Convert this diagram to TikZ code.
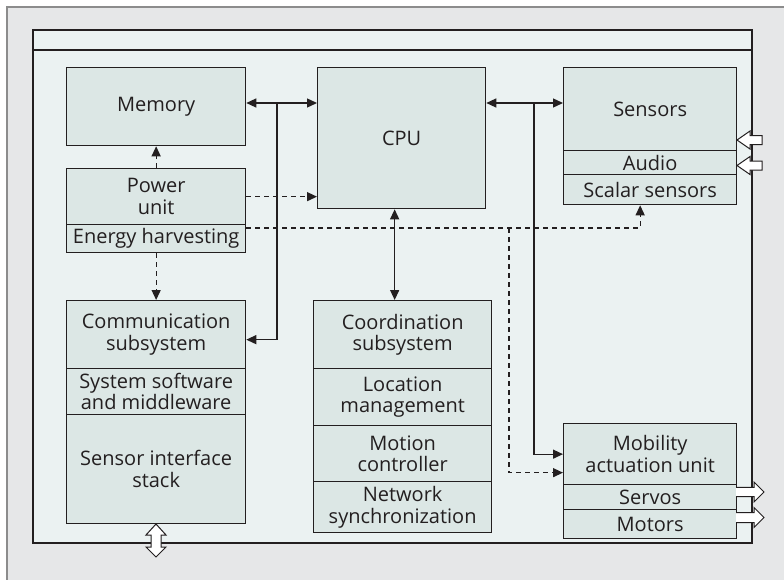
\documentclass[tikz,border=0pt]{standalone}
\usepackage{fontspec}
\setmainfont{Open Sans}
\usetikzlibrary{arrows.meta}
\definecolor{bggray}{HTML}{E6E7E8}
\definecolor{framegray}{HTML}{8C8C8C}
\definecolor{panel}{HTML}{EBF2F2}
\definecolor{boxfill}{HTML}{DCE7E5}
\definecolor{ink}{HTML}{231F20}
\begin{document}
\begin{tikzpicture}[x=1pt,y=-1pt,
  blk/.style={draw=ink, line width=1.3pt, fill=boxfill, anchor=north west, inner sep=0pt, align=center, font=\fontsize{20}{21.5}\selectfont, text=ink},
  conn/.style={draw=ink, line width=1.3pt},
  dconn/.style={conn, dash pattern=on 5pt off 4pt},
  tipone/.style={-{Triangle[length=10pt,width=9pt]}},
  tiptwo/.style={{Triangle[length=10pt,width=9pt]}-{Triangle[length=10pt,width=9pt]}},
  hollow/.style={draw=ink, line width=1pt, fill=white, line join=miter}
]
\useasboundingbox (0,0) rectangle (784,579);
\fill[white] (0,0) rectangle (784,579);
\draw[fill=bggray, draw=framegray, line width=2pt] (7,7) rectangle (800,600);
\draw[fill=panel, draw=ink, line width=1.3pt] (33,30) rectangle (752,543);
\draw[ink, line width=1.3pt] (33,50) -- (752,50);

% blocks
\node[blk, minimum width=179pt, minimum height=78pt] (mem) at (66,67) {Memory};
\node[blk, minimum width=168pt, minimum height=141pt] (cpu) at (317,67) {CPU};
\node[blk, minimum width=173pt, minimum height=83pt] (sens) at (563,67) {Sensors};
\node[blk, minimum width=173pt, minimum height=24pt] (audio) at (563,150) {Audio};
\node[blk, minimum width=173pt, minimum height=30pt] (scalar) at (563,174) {Scalar sensors};

\node[blk, minimum width=179pt, minimum height=56pt] (power) at (66,168) {Power\\unit};
\node[blk, minimum width=179pt, minimum height=28pt] (energy) at (66,224) {Energy harvesting};

\node[blk, minimum width=179pt, minimum height=68pt] (comm) at (66,300) {Communication\\subsystem};
\node[blk, minimum width=179pt, minimum height=46pt] (sysw) at (66,368) {System software\\and middleware};
\node[blk, minimum width=179pt, minimum height=109pt] (sis) at (66,414) {Sensor interface\\stack};

\node[blk, minimum width=178pt, minimum height=68pt] (coord) at (313,300) {Coordination\\subsystem};
\node[blk, minimum width=178pt, minimum height=57pt] (loc) at (313,368) {Location\\management};
\node[blk, minimum width=178pt, minimum height=56pt] (mot) at (313,425) {Motion\\controller};
\node[blk, minimum width=178pt, minimum height=51pt] (net) at (313,481) {Network\\synchronization};

\node[blk, minimum width=173pt, minimum height=61pt] (mob) at (563,423) {Mobility\\actuation unit};
\node[blk, minimum width=173pt, minimum height=25pt] (servo) at (563,484) {Servos};
\node[blk, minimum width=173pt, minimum height=29pt] (motor) at (563,509) {Motors};

% solid connectors
\coordinate (j1) at (277,103);
\coordinate (j2) at (534,103);
\draw[conn, tiptwo] (mem.east |- j1) -- (cpu.west |- j1);
\draw[conn, tipone] (j1) |- ([yshift=-5pt]comm.east);
\draw[conn, tiptwo] (cpu.east |- j2) -- (sens.west |- j2);
\draw[conn, tipone] (j2) |- (mob.west);
\draw[conn, tiptwo] ([xshift=-7pt]cpu.south) -- ([xshift=-7pt]cpu.south |- coord.north);

% dashed connectors
\draw[dconn, tipone] (power.north) -- (mem.south);
\draw[dconn, tipone] (power.east) -- (cpu.west |- power.east);
\draw[dconn, tipone] (energy.south) -- (comm.north);
\coordinate (e1) at ([yshift=-4pt]energy.north east);
\coordinate (j3) at (509,228);
\draw[dconn, tipone] (e1) -| ([xshift=-10pt]scalar.south);
\draw[dconn, tipone] (j3) |- ([yshift=-18.5pt]mob.west);

% hollow arrows
\draw[hollow] (737,140) -- (750,131) -- (750,135.5) -- (762,135.5) -- (762,144.5) -- (750,144.5) -- (750,149) -- cycle;
\draw[hollow] (737,165.5) -- (750,156.5) -- (750,161) -- (762,161) -- (762,170) -- (750,170) -- (750,174.5) -- cycle;
\draw[hollow] (736,487.3) -- (754,487.3) -- (754,482) -- (764,492) -- (754,502) -- (754,496.7) -- (736,496.7);
\draw[hollow] (736,512.5) -- (754,512.5) -- (754,507.5) -- (764,517.5) -- (754,527.5) -- (754,522.5) -- (736,522.5);
\draw[hollow] (156,524) -- (166,535) -- (161,535) -- (161,547) -- (166,547) -- (156,557) -- (146,547) -- (151,547) -- (151,535) -- (146,535) -- cycle;
\end{tikzpicture}
\end{document}
